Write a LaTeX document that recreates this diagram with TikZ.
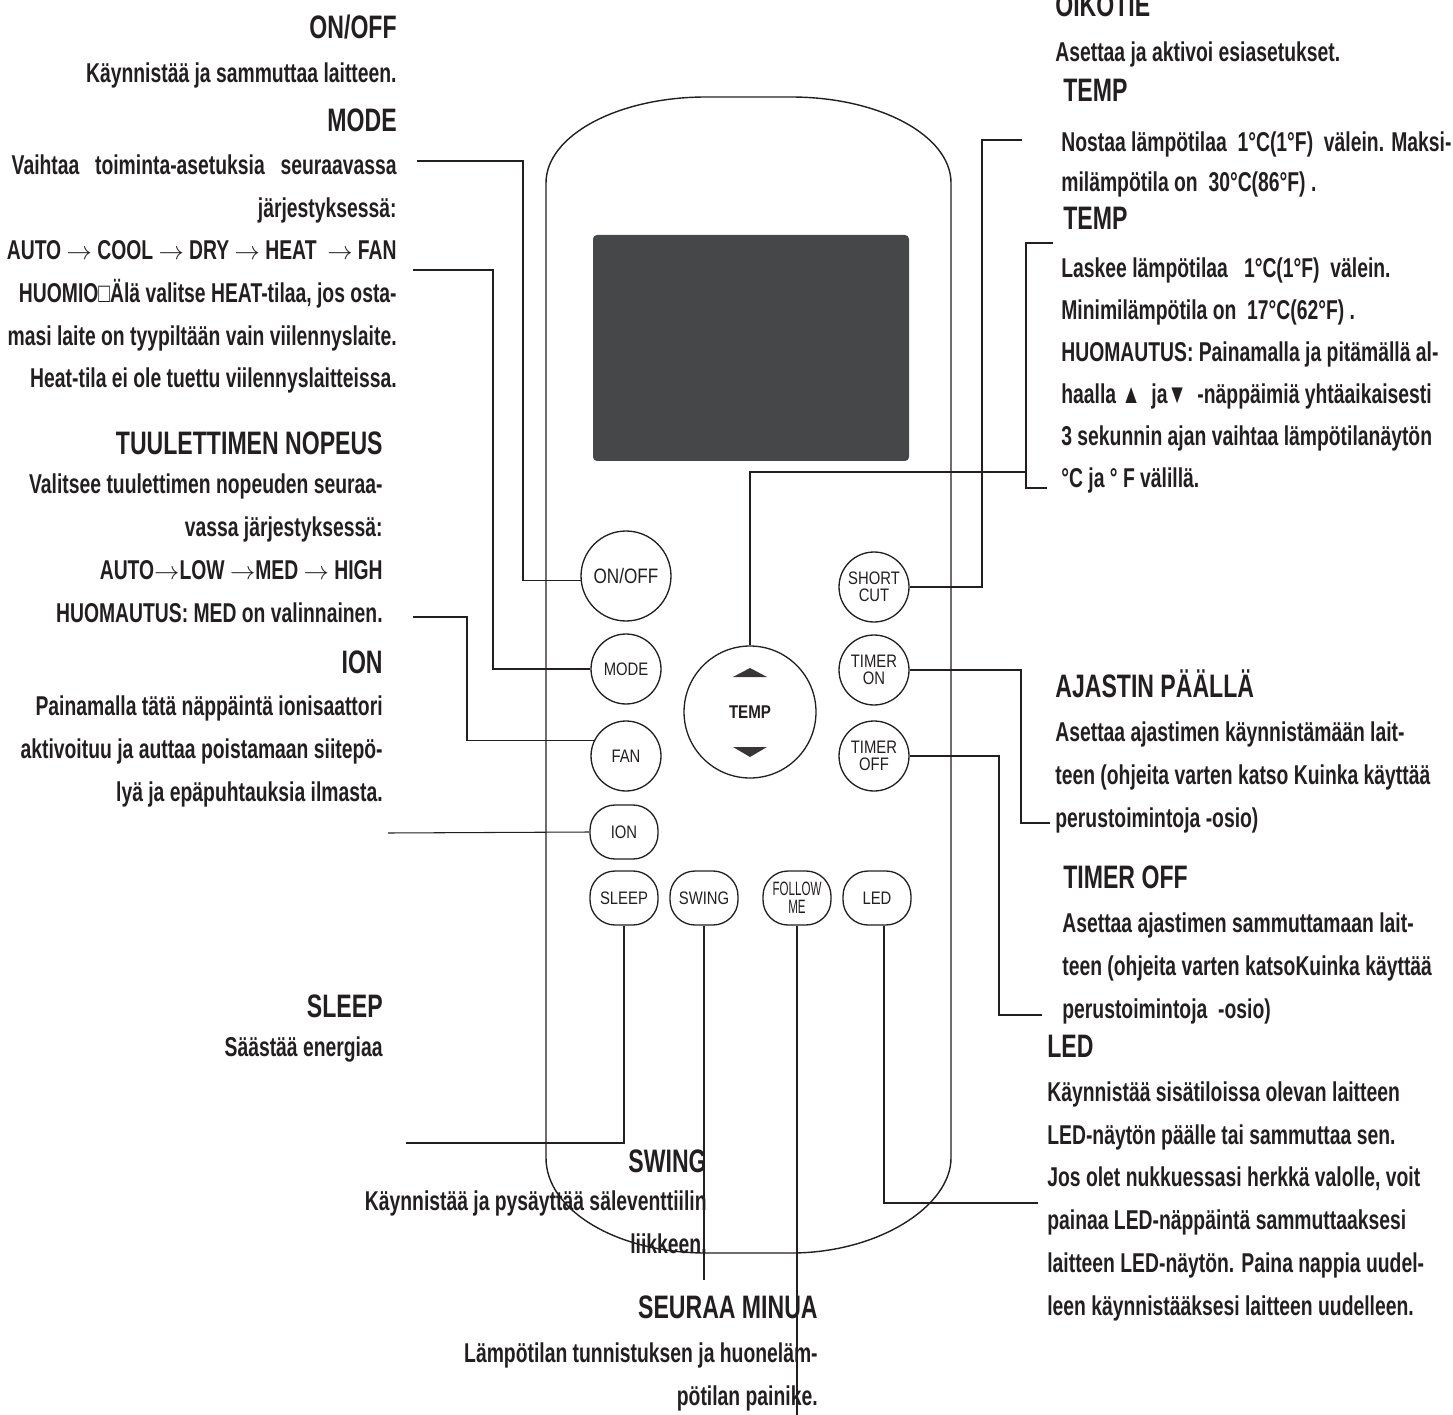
\documentclass[tikz,border=0pt]{standalone}
\usepackage{fontspec}
\usepackage{tikz}
\newfontfamily\lblfont[FakeStretch=0.71]{Liberation Sans}
\newfontfamily\btnfont[FakeStretch=0.82]{Liberation Sans}
\newfontfamily\tightfont[FakeStretch=0.6]{Liberation Sans}
\newcommand{\toarrow}{\ensuremath{\rightarrow}}
\definecolor{ink}{HTML}{231F20}
\definecolor{lcd}{HTML}{464749}

\begin{document}
\begin{tikzpicture}[x=0.02cm,y=-0.02cm]
	\useasboundingbox (0,0) rectangle (1453,1415);
	\tikzstyle{head}=[inner sep=0pt,text=ink,font=\lblfont\bfseries\fontsize{18.5}{22}\selectfont]
	\tikzstyle{desc}=[inner sep=0pt,text=ink,font=\lblfont\bfseries\fontsize{15.5}{24.3}\selectfont]
	\tikzstyle{btn}=[circle,draw=ink,line width=0.75pt,minimum size=1.4cm,inner sep=0pt,align=center,text=ink,font=\btnfont\fontsize{10.3}{9.8}\selectfont]
	\tikzstyle{pill}=[rectangle,rounded corners=0.5cm,draw=ink,line width=0.75pt,minimum width=1.36cm,minimum height=1.08cm,inner sep=0pt,align=center,text=ink,font=\btnfont\fontsize{10.3}{9.8}\selectfont]
	\tikzstyle{lead}=[draw=ink,line width=0.6pt]
	
	% remote body and display
	\draw[ink,line width=0.8pt] (546,183) -- (546,1158) .. controls (546,1210.5) and (617.6,1253) .. (706,1253) -- (791,1253) .. controls (879.4,1253) and (951,1205.5) .. (951,1158) -- (951,183) .. controls (951,135.5) and (879.4,97) .. (791,97) -- (706,97) .. controls (617.6,97) and (546,135.5) .. (546,183) -- cycle;
	\fill[lcd,rounded corners=0.08cm] (593,235) rectangle (909,461);
	
	% buttons
	\node[btn,minimum size=1.8cm,font=\btnfont\fontsize{11.9}{12}\selectfont] (onoff) at (626,576) {ON/OFF};
	\node[btn] (mode) at (626,669) {MODE};
	\node[btn] (fan) at (626,756) {FAN};
	\node[pill] (ion) at (624,832) {ION};
	\node[pill] (sleep) at (624,898) {SLEEP};
	\node[pill] (swing) at (704,898) {SWING};
	\node[pill,font=\tightfont\fontsize{11}{10.5}\selectfont] (follow) at (797,898) {FOLLOW\\ME};
	\node[pill] (led) at (877,898) {LED};
	\node[btn,minimum size=2.64cm,font=\btnfont\bfseries\fontsize{10.5}{11}\selectfont] (temp) at (750,712) {TEMP};
	\fill[ink!90] (733,677) -- (750,668) -- (767,677) -- cycle;
	\fill[ink!90] (733,747) -- (767,747) -- (750,757) -- cycle;
	\node[btn] (shortcut) at (874,587) {SHORT\\CUT};
	\node[btn] (timeron) at (874,670) {TIMER\\ON};
	\node[btn] (timeroff) at (874,756) {TIMER\\OFF};
	
	% left texts (multi-line nodes sit on their last line)
	\node[head,anchor=base east] (onoffH) at (397,39) {ON/OFF};
	\node[desc,anchor=base east] (onoffD) at (397,83) {Käynnistää ja sammuttaa laitteen.};
	\node[head,anchor=base east] (modeH) at (397,132) {MODE};
	\node[desc,anchor=base east,align=right] (modeD) at (397,388) {\makebox[7.7cm][s]{Vaihtaa toiminta-asetuksia seuraavassa}\\järjestyksessä:\\AUTO \toarrow\ COOL \toarrow\ DRY \toarrow\ HEAT \ \toarrow\ FAN\\HUOMIO□Älä valitse HEAT-tilaa, jos osta-\\masi laite on tyypiltään vain viilennyslaite.\\Heat-tila ei ole tuettu viilennyslaitteissa.};
	\node[head,anchor=base east] (fanH) at (383,455) {TUULETTIMEN NOPEUS};
	\node[desc,anchor=base east,align=right] (fanD) at (383,622) {Valitsee tuulettimen nopeuden seuraa-\\vassa järjestyksessä:\\AUTO\toarrow LOW \toarrow MED \toarrow\ HIGH\\HUOMAUTUS: MED on valinnainen.};
	\node[head,anchor=base east] (ionH) at (383,673) {ION};
	\node[desc,anchor=base east,align=right] (ionD) at (383,801) {Painamalla tätä näppäintä ionisaattori\\aktivoituu ja auttaa poistamaan siitepö-\\lyä ja epäpuhtauksia ilmasta.};
	\node[head,anchor=base east] (sleepH) at (383,1017) {SLEEP};
	\node[desc,anchor=base east] (sleepD) at (383,1056) {Säästää energiaa};
	
	% bottom texts
	\node[head,anchor=base east] (swingH) at (707,1172) {SWING};
	\node[desc,anchor=base east,align=right] (swingD) at (707,1253) {Käynnistää ja pysäyttää säleventtiilin\\liikkeen.};
	\node[head,anchor=base east] (followH) at (818,1318) {SEURAA MINUA};
	\node[desc,anchor=base east,align=right] (followD) at (818,1405) {Lämpötilan tunnistuksen ja huoneläm-\\pötilan painike.};
	
	% right texts
	\node[head,anchor=base west] (shortH) at (1055,17) {OIKOTIE};
	\node[desc,anchor=base west] (shortD) at (1055,62) {Asettaa ja aktivoi esiasetukset.};
	\node[head,anchor=base west] (upH) at (1063,102) {TEMP};
	\node[desc,anchor=base west,align=left] (upD) at (1061,192) {Nostaa lämpötilaa \ 1°C(1°F) \ välein. Maksi-\\[-1.5pt]milämpötila on \ 30°C(86°F) .};
	\node[head,anchor=base west] (downH) at (1063,230) {TEMP};
	\node[desc,anchor=base west,align=left,font=\lblfont\bfseries\fontsize{15.5}{23.8}\selectfont] (downD) at (1061,487) {Laskee lämpötilaa \ \ 1°C(1°F) \ välein.\\Minimilämpötila on \ 17°C(62°F) .\\HUOMAUTUS: Painamalla ja pitämällä al-\\haalla ▲ \ ja▼ \ -näppäimiä yhtäaikaisesti\\3 sekunnin ajan vaihtaa lämpötilanäytön\\°C ja ° F välillä.};
	\node[head,anchor=base west] (tonH) at (1055,697) {AJASTIN PÄÄLLÄ};
	\node[desc,anchor=base west,align=left] (tonD) at (1055,827) {Asettaa ajastimen käynnistämään lait-\\teen (ohjeita varten katso Kuinka käyttää\\perustoimintoja -osio)};
	\node[head,anchor=base west] (toffH) at (1063,888) {TIMER OFF};
	\node[desc,anchor=base west,align=left] (toffD) at (1062,1018) {Asettaa ajastimen sammuttamaan lait-\\teen (ohjeita varten katsoKuinka käyttää\\perustoimintoja \ -osio)};
	\node[head,anchor=base west] (ledH) at (1047,1057) {LED};
	\node[desc,anchor=base west,align=left] (ledD) at (1047,1315) {Käynnistää sisätiloissa olevan laitteen\\LED-näytön päälle tai sammuttaa sen.\\Jos olet nukkuessasi herkkä valolle, voit\\painaa LED-näppäintä sammuttaaksesi\\laitteen LED-näytön. Paina nappia uudel-\\leen käynnistääksesi laitteen uudelleen.};
	
	% leader corners and free ends
	\coordinate (onoffK) at (523,161);
	\coordinate (onoffEnd) at (417,161);
	\coordinate (modeK) at (493,270);
	\coordinate (modeEnd) at (413,270);
	\coordinate (fanK) at (467,617);
	\coordinate (fanEnd) at (413,617);
	\coordinate (ionEnd) at (388,833);
	\coordinate (sleepEnd) at (406,1143);
	\coordinate (swingEnd) at (707,1280);
	\coordinate (followEnd) at (795,1415);
	\coordinate (ledEnd) at (1038,1203);
	\coordinate (toffK) at (999,1015);
	\coordinate (toffEnd) at (1042,1015);
	\coordinate (tonK) at (1021,823);
	\coordinate (tonEnd) at (1050,823);
	\coordinate (scK) at (982,140);
	\coordinate (scEnd) at (1022,140);
	\coordinate (tempK) at (1026,472);
	\coordinate (brTop) at (1053,243);
	\coordinate (brBot) at (1047,488);
	
	% leaders
	\draw[lead] (onoff.186) -| (onoffK) -- (onoffEnd);
	\draw[lead] (mode.west) -| (modeK) -- (modeEnd);
	\draw[lead] (fan.155) -| (fanK) -- (fanEnd);
	\draw[lead] (ion.west) -- (ionEnd);
	\draw[lead] (sleep.south) |- (sleepEnd);
	\draw[lead] (swing.south) -- (swing.south |- swingEnd);
	\draw[lead] (follow.south) -- (follow.south |- followEnd);
	\draw[lead] ([xshift=0.14cm]led.south) |- (ledEnd);
	\draw[lead] (timeroff.east) -| (toffK) -- (toffEnd);
	\draw[lead] (timeron.east) -| (tonK) -- (tonEnd);
	\draw[lead] (shortcut.east) -| (scK) -- (scEnd);
	\draw[lead] (temp.north) |- (tempK);
	\draw[lead] (brTop) -- (brTop -| tempK) -- (brBot -| tempK) -- (brBot);
\end{tikzpicture}
\end{document}
